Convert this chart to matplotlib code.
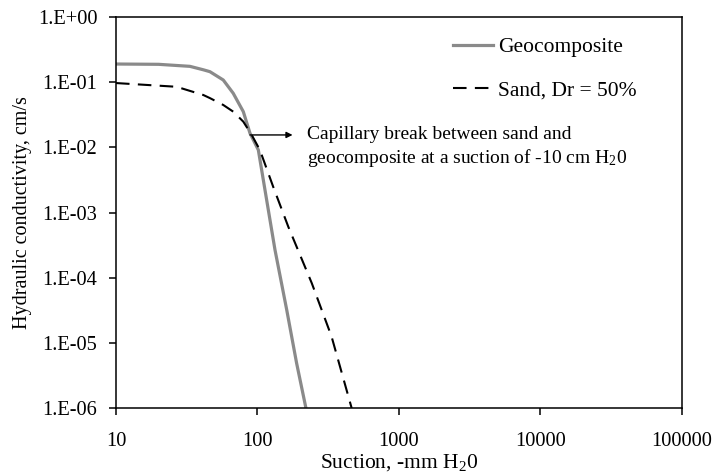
import numpy as np
import matplotlib
matplotlib.use("Agg")
import matplotlib.pyplot as plt

plt.rcParams['font.family'] = 'Liberation Serif'
plt.rcParams['mathtext.fontset'] = 'custom'
plt.rcParams['mathtext.rm'] = 'Liberation Serif'
plt.rcParams['mathtext.it'] = 'Liberation Serif'
plt.rcParams['mathtext.default'] = 'rm'

geo_suction = [10, 20, 33.3, 41.4, 46.1, 57.3, 67.4, 79.4, 88.5, 101.4, 113, 133, 161, 189, 220]
geo_k = [0.19, 0.188, 0.175, 0.155, 0.145, 0.108, 0.0675, 0.0353, 0.0165, 0.00912, 0.00222,
         2.67e-4, 3.2e-5, 4.9e-6, 1e-6]

sand_suction = [10, 26.8, 41.4, 46.1, 57.3, 67.4, 79.4, 91, 104, 129, 165, 242, 334, 463]
sand_k = [0.097, 0.085, 0.0636, 0.057, 0.0447, 0.0353, 0.0248, 0.0155, 0.00912, 0.0025,
          6.08e-4, 8.24e-5, 1.25e-5, 1e-6]

xticks = [10, 100, 1000, 10000, 100000]
yticks = [1e-6, 1e-5, 1e-4, 1e-3, 1e-2, 1e-1, 1]
ylabels = ['1.E-06', '1.E-05', '1.E-04', '1.E-03', '1.E-02', '1.E-01', '1.E+00']

fig = plt.figure(figsize=(7.17, 4.74), dpi=100)
ax = fig.add_axes([0.1618, 0.1392, 0.951 - 0.1618, 0.9641 - 0.1392])

ax.plot(geo_suction, geo_k, color='#8a8a8a', lw=2.3, label='Geocomposite')
ax.plot(sand_suction, sand_k, color='black', lw=1.5, dashes=(6.5, 4), label='Sand, Dr = 50%')

ax.set_xscale('log')
ax.set_yscale('log')
ax.set_xlim(10, 100000)
ax.set_ylim(1e-6, 1)
ax.set_xticks(xticks)
ax.set_xticklabels([str(t) for t in xticks])
ax.set_yticks(yticks)
ax.set_yticklabels(ylabels)
ax.minorticks_off()
ax.tick_params(direction='out', length=5, width=1.1, labelsize=14.7, colors='black')
ax.xaxis.set_tick_params(pad=12.5)
ax.yaxis.set_tick_params(pad=8.5)
for s in ax.spines.values():
    s.set_linewidth(1.1)

ax.set_xlabel('Suction, -mm H$_2$0', fontsize=15.5, va='top')
ax.xaxis.set_label_coords(0.5, -0.1135)
ax.set_ylabel('Hydraulic conductivity, cm/s', fontsize=14.5)
ax.yaxis.set_label_coords(-0.148, 0.5)

ax.annotate('', xy=(177, 0.0155), xytext=(88.5, 0.0155),
            arrowprops=dict(arrowstyle='-|>', color='black', lw=1.0, mutation_scale=9,
                            shrinkA=0, shrinkB=0))
ax.text(224, 0.00996, 'Capillary break between sand and\ngeocomposite at a suction of -10 cm H$_2$0',
        fontsize=14, va='center', ha='left', linespacing=1.25)

leg = ax.legend(loc='upper left', bbox_to_anchor=(0.595, 0.948), frameon=False,
                fontsize=15.5, handlelength=1.85, handletextpad=0.25, labelspacing=1.05,
                borderaxespad=0, borderpad=0)

fig.savefig('out.png', dpi=100)
